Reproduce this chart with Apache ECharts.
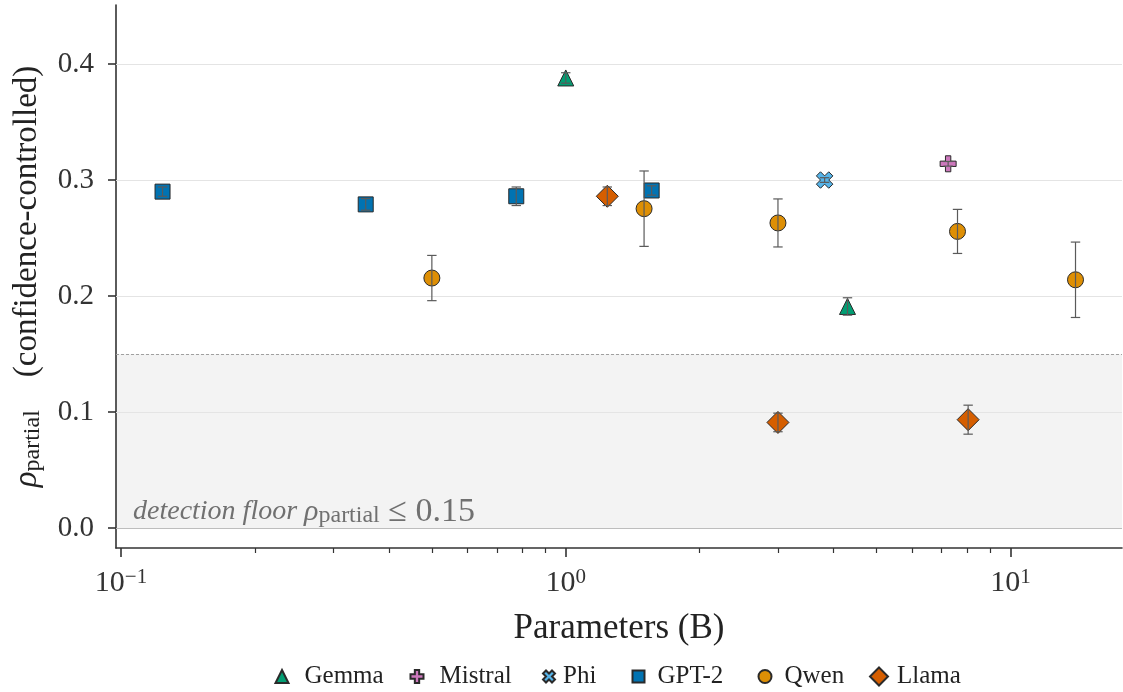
<!DOCTYPE html>
<html>
<head>
<meta charset="utf-8">
<script src="https://cdn.jsdelivr.net/npm/echarts@6/dist/echarts.min.js"></script>
<style>html,body{margin:0;padding:0;background:#fff}#chart{width:1123px;height:692px}</style>
</head>
<body>
<div id="chart"></div>
<script>
// ---------------- data ----------------
const families = ['Gemma', 'Mistral', 'Phi', 'GPT-2', 'Qwen', 'Llama'];

const gemmaParams = [1.0, 4.3];
const gemmaRho = [0.388, 0.191];
const gemmaErr = [0.0045, 0.0075];

const mistralParams = [7.24];
const mistralRho = [0.314];
const mistralErr = [0.002];

const phiParams = [3.82];
const phiRho = [0.300];
const phiErr = [0.002];

const gpt2Params = [0.124, 0.355, 0.774, 1.56];
const gpt2Rho = [0.290, 0.279, 0.286, 0.291];
const gpt2Err = [0.004, 0.005, 0.008, 0.004];

const qwenParams = [0.5, 1.5, 3.0, 7.6, 14.0];
const qwenRho = [0.2155, 0.2753, 0.263, 0.2557, 0.214];
const qwenErr = [0.0195, 0.0325, 0.0207, 0.019, 0.0325];

const llamaParams = [1.24, 3.0, 8.03];
const llamaRho = [0.286, 0.091, 0.0934];
const llamaErr = [0.008, 0.008, 0.0125];

const yTickValues = [0.0, 0.1, 0.2, 0.3, 0.4];
const xTickExponents = [-1, 0, 1];
const xMinorTicks = [0.2, 0.3, 0.4, 0.5, 0.6, 0.7, 0.8, 0.9, 2, 3, 4, 5, 6, 7, 8, 9];
const detectionFloor = 0.15;

// ---------------- style ----------------
const FONT = 'Liberation Serif';
const colors = {Gemma: '#029e73', Mistral: '#cc78bc', Phi: '#56b4e9', 'GPT-2': '#0173b2', Qwen: '#de8f05', Llama: '#d55e00'};
const plusPath = 'path://M-1,-3L1,-3L1,-1L3,-1L3,1L1,1L1,3L-1,3L-1,1L-3,1L-3,-1L-1,-1Z';
const xPath = 'path://M2,-4L4,-2L2,0L4,2L2,4L0,2L-2,4L-4,2L-2,0L-4,-2L-2,-4L0,-2Z';
const symbols = {Gemma: 'triangle', Mistral: plusPath, Phi: xPath, 'GPT-2': 'rect', Qwen: 'circle', Llama: 'diamond'};
const symbolSizes = {Gemma: 16, Mistral: 16, Phi: 16.5, 'GPT-2': 15, Qwen: 16, Llama: 22};

const groups = {
  Gemma: [gemmaParams, gemmaRho, gemmaErr],
  Mistral: [mistralParams, mistralRho, mistralErr],
  Phi: [phiParams, phiRho, phiErr],
  'GPT-2': [gpt2Params, gpt2Rho, gpt2Err],
  Qwen: [qwenParams, qwenRho, qwenErr],
  Llama: [llamaParams, llamaRho, llamaErr]
};

const X_MIN = 0.09745, X_MAX = 17.81, Y_MIN = -0.01724, Y_MAX = 0.4509;

const scatterSeries = families.map(name => {
  const [p, r] = groups[name];
  return {
    name: name,
    type: 'scatter',
    z: 3,
    symbol: symbols[name],
    symbolSize: symbolSizes[name],
    itemStyle: {color: colors[name], borderColor: '#2a2a2a', borderWidth: 1, opacity: 1},
    emphasis: {disabled: true},
    data: p.map((v, i) => [v, r[i]])
  };
});

const errData = [];
families.forEach(name => {
  const [p, r, e] = groups[name];
  p.forEach((v, i) => errData.push([v, r[i], e[i]]));
});

const errSeries = {
  type: 'custom',
  z: 4,
  silent: true,
  encode: {x: 0, y: 1},
  data: errData,
  renderItem: function (params, api) {
    const x = api.value(0), y = api.value(1), e = api.value(2);
    const t = api.coord([x, y + e]);
    const b = api.coord([x, y - e]);
    const hw = 4.7;
    const st = {stroke: '#5a5a5a', lineWidth: 1.2};
    return {type: 'group', children: [
      {type: 'line', shape: {x1: t[0], y1: t[1], x2: b[0], y2: b[1]}, style: st},
      {type: 'line', shape: {x1: t[0] - hw, y1: t[1], x2: t[0] + hw, y2: t[1]}, style: st},
      {type: 'line', shape: {x1: b[0] - hw, y1: b[1], x2: b[0] + hw, y2: b[1]}, style: st}
    ]};
  }
};

const gridLines = yTickValues.filter(v => v !== 0).map(v => ({yAxis: v, lineStyle: {color: '#e4e4e4', width: 1.2, type: 'solid'}}));

const bgSeries = {
  type: 'scatter',
  data: [],
  silent: true,
  markArea: {
    z: 0,
    silent: true,
    itemStyle: {color: '#f3f3f3'},
    label: {
      show: true,
      position: 'insideBottomLeft',
      distance: 0,
      offset: [17, 0],
      formatter: '{it|detection floor }{r|ρ}{s|partial}{t| ≤ 0.15}',
      rich: {
        it: {fontFamily: FONT, fontStyle: 'italic', fontSize: 28, color: '#707070', lineHeight: 32},
        r: {fontFamily: FONT, fontStyle: 'italic', fontSize: 30, color: '#707070', lineHeight: 32},
        s: {fontFamily: FONT, fontSize: 24, color: '#707070', lineHeight: 22, verticalAlign: 'bottom'},
        t: {fontFamily: FONT, fontSize: 34, color: '#707070', lineHeight: 32}
      }
    },
    data: [[{yAxis: 0}, {yAxis: detectionFloor}]]
  },
  markLine: {
    z: 1,
    silent: true,
    symbol: 'none',
    label: {show: false},
    data: gridLines.concat([
      {yAxis: 0, lineStyle: {color: '#bdbdbd', width: 1.2, type: 'solid'}},
      {yAxis: detectionFloor, lineStyle: {color: '#a0a0a0', width: 1, type: [3, 2]}}
    ])
  }
};

const legendLayout = {
  Gemma:   {center: 281, size: 13, pad: 11},
  Mistral: {center: 416, size: 13, pad: 11},
  Phi:     {center: 548, size: 12, pad: 3},
  'GPT-2': {center: 637.5, size: 12, pad: 8},
  Qwen:    {center: 764, size: 13, pad: 8},
  Llama:   {center: 878, size: 18, pad: 4}
};
const LEGEND_CY = 676.5;
const LEGEND_TEXT_H = 26;
const legends = families.map(name => {
  const L = legendLayout[name];
  return {
    data: [name],
    left: L.center - L.size / 2,
    top: LEGEND_CY - LEGEND_TEXT_H / 2,
    padding: 0,
    itemWidth: L.size,
    itemHeight: L.size,
    selectedMode: false,
    textStyle: {fontFamily: FONT, fontSize: 25, lineHeight: LEGEND_TEXT_H, color: '#222', padding: [0, 0, 0, L.pad]}
  };
});

const option = {
  animation: false,
  backgroundColor: '#ffffff',
  textStyle: {fontFamily: FONT},
  grid: {left: 116, right: 1, top: 5, bottom: 144, containLabel: false},
  legend: legends,
  xAxis: [{
    type: 'log',
    min: X_MIN, max: X_MAX,
    name: 'Parameters (B)',
    nameLocation: 'middle',
    nameGap: 63,
    nameTextStyle: {fontFamily: FONT, fontSize: 35, color: '#222'},
    axisLine: {show: true, onZero: false, lineStyle: {color: '#333', width: 1.6}},
    axisTick: {show: true, length: 9, customValues: xTickExponents.map(e => Math.pow(10, e)), lineStyle: {color: '#333', width: 1.6}},
    axisLabel: {
      customValues: xTickExponents.map(e => Math.pow(10, e)),
      margin: 19,
      formatter: function (v) {
        const e = Math.round(Math.log10(v));
        return '{b|10}{s|' + (e < 0 ? '\u2212' + (-e) : e) + '}';
      },
      rich: {
        b: {fontFamily: FONT, fontSize: 30, color: '#333', lineHeight: 32},
        s: {fontFamily: FONT, fontSize: 21, color: '#333', lineHeight: 14, verticalAlign: 'top'}
      }
    },
    splitLine: {show: false},
    minorTick: {show: false}
  }, {
    type: 'log',
    min: X_MIN, max: X_MAX,
    position: 'bottom',
    axisLine: {show: false, onZero: false},
    axisTick: {show: true, length: 5, customValues: xMinorTicks, lineStyle: {color: '#333', width: 1.2}},
    axisLabel: {show: false},
    splitLine: {show: false}
  }],
  yAxis: {
    type: 'value',
    min: Y_MIN, max: Y_MAX,
    name: '{r|ρ}{s|partial}{t|    (confidence-controlled)}',
    nameLocation: 'middle',
    nameRotate: 90,
    nameGap: 71,
    nameTextStyle: {
      fontFamily: FONT, color: '#222',
      rich: {
        r: {fontFamily: FONT, fontStyle: 'italic', fontSize: 33, color: '#222', lineHeight: 36},
        s: {fontFamily: FONT, fontSize: 24, color: '#222', lineHeight: 23, verticalAlign: 'bottom'},
        t: {fontFamily: FONT, fontSize: 33, color: '#222', lineHeight: 36}
      }
    },
    axisLine: {show: true, onZero: false, lineStyle: {color: '#333', width: 1.6}},
    axisTick: {show: true, length: 8, customValues: yTickValues, lineStyle: {color: '#333', width: 1.6}},
    axisLabel: {
      customValues: yTickValues,
      margin: 22,
      fontFamily: FONT, fontSize: 29, color: '#333',
      formatter: v => v.toFixed(1)
    },
    splitLine: {show: false}
  },
  series: [bgSeries].concat(scatterSeries).concat([errSeries])
};

const chart = echarts.init(document.getElementById('chart'), null, {renderer: 'canvas'});
chart.setOption(option);
</script>
</body>
</html>
